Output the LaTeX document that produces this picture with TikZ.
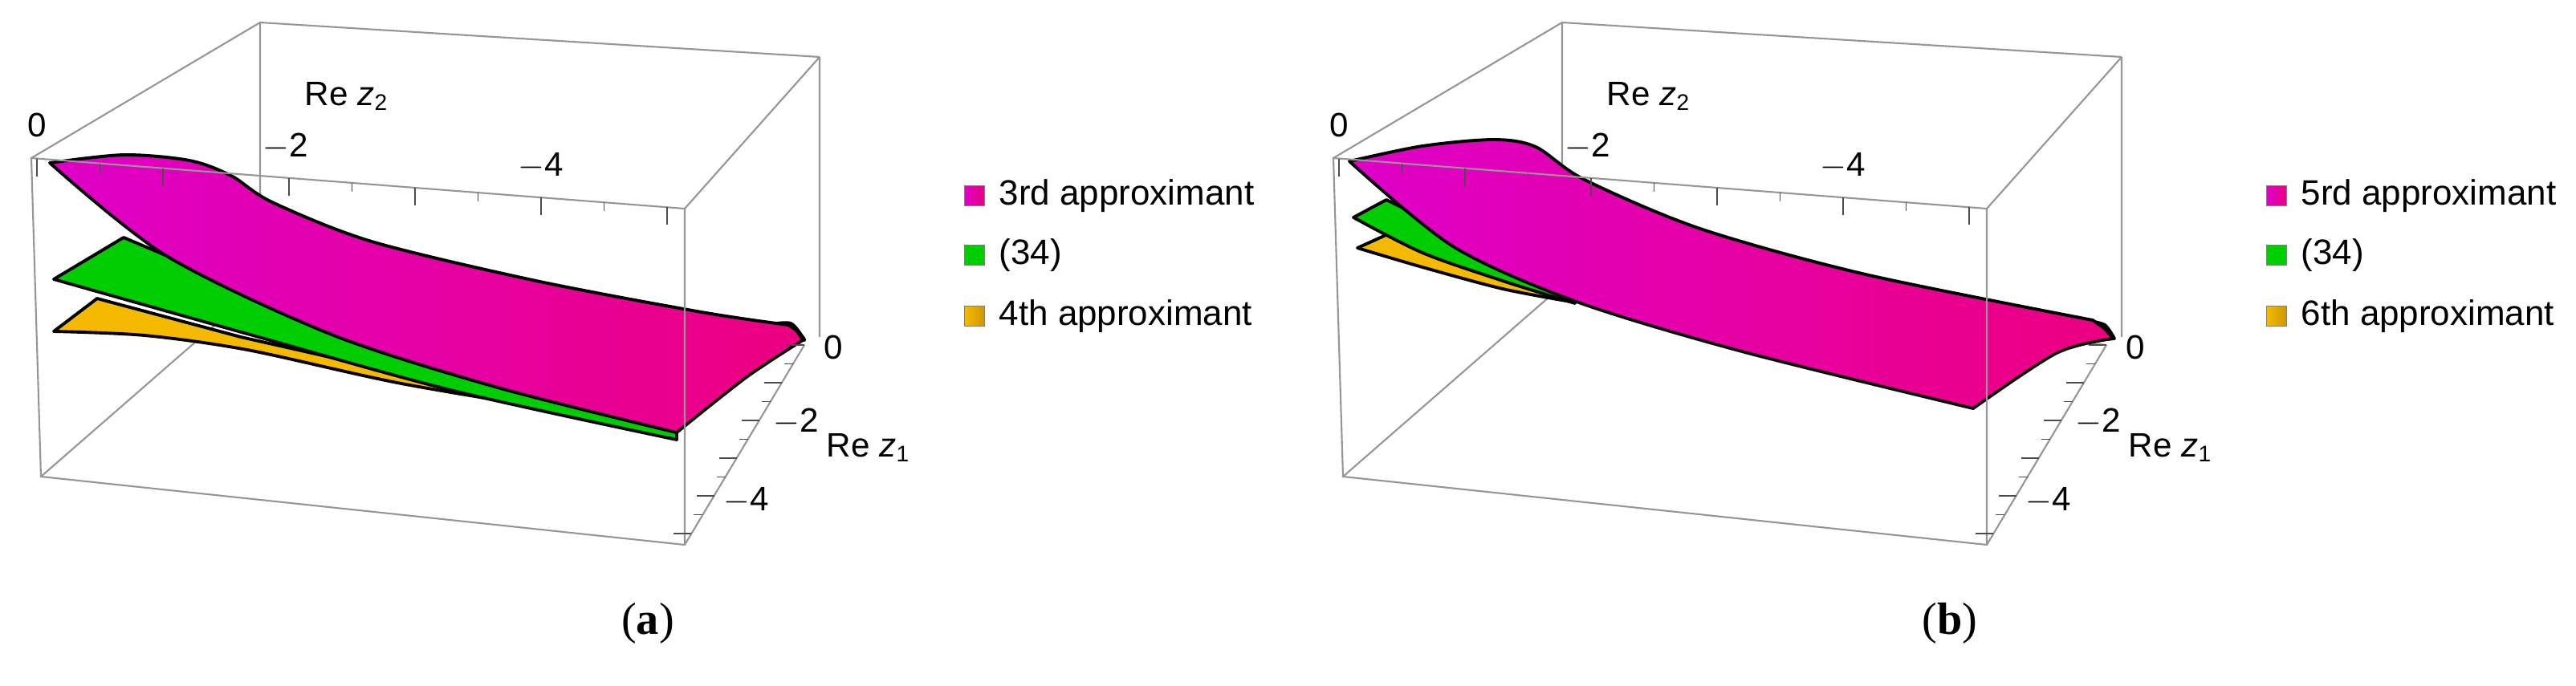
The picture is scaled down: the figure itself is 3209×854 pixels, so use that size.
\documentclass[tikz,border=0pt]{standalone}
\usepackage{fontspec}
\setmainfont{Liberation Sans}
\newfontfamily\capserif{Liberation Serif}
\definecolor{mag}{RGB}{236,0,128}
\definecolor{magL}{RGB}{222,0,200}
\definecolor{grn}{RGB}{0,205,0}
\definecolor{yel}{RGB}{245,185,0}
\definecolor{brn}{RGB}{120,70,10}
\definecolor{boxc}{RGB}{150,150,150}
\tikzset{
 boxl/.style={draw=boxc,line width=0.6pt},
 tick/.style={draw=black!70,line width=0.5pt},
 edge/.style={draw=black,line width=1.1pt,line join=round},
 lab/.style={font=\fontsize{12}{14}\selectfont,inner sep=1pt},
 leg/.style={font=\fontsize{12.5}{14}\selectfont,anchor=west,inner sep=0pt},
 sw/.style={minimum size=7pt,inner sep=0pt,draw=black!50,line width=0.3pt},
 captxt/.style={font=\capserif\fontsize{16}{18}\selectfont}
}
\newcommand{\mypanel}[5]{%
\begin{scope}[shift={(#1,0)}]
 \path[boxl] (324,28)--(1021,71) (324,28)--(39,197) (1021,71)--(853,260) (1021,71)--(1021,420)
   (324,28)--(324,356) (324,356)--(51,594) (324,356)--(1002,430);
 #5
 \path[boxl] (39,197)--(853,260)--(853,679)--(51,594)--cycle (853,679)--(1002,430);
 \foreach \u in {0,0.5,...,5}{
   \pgfmathsetmacro{\xx}{46+157*\u}
   \pgfmathsetmacro{\yy}{197+(\xx-39)*0.0774}
   \pgfmathsetmacro{\tl}{mod(\u,1)==0 ? 22 : 11}
   \draw[tick] (\xx,\yy)--++(0,\tl);
   \pgfmathsetmacro{\yb}{430+47*\u}
   \pgfmathsetmacro{\xb}{1002-(\yb-430)*0.5984}
   \draw[tick] (\xb,\yb)--++(-\tl,0);
 }
 \node[lab] (#2z20) at (46,156) {0};
 \node[lab] (#2z2a) at (356,183) {$-$2};
 \node[lab] (#2z2b) at (674,207) {$-$4};
 \node[lab] (#2z2) at (432,120) {Re \textit{z}\textsubscript{2}};
 \node[lab] (#2z10) at (1038,433) {0};
 \node[lab] (#2z1a) at (992,526) {$-$2};
 \node[lab] (#2z1b) at (930,624) {$-$4};
 \node[lab] (#2z1) at (1082,558) {Re \textit{z}\textsubscript{1}};
 \node[sw,left color=magL,right color=mag] (#2s1) at (1214,244) {};
 \node[sw,fill=grn] (#2s2) at (1214,318) {};
 \node[sw,left color=yel,right color=yel!70!brn] (#2s3) at (1214,394) {};
 \node[leg] (#2t1) at (1244,244) {#3};
 \node[leg] (#2t2) at (1244,318) {(34)};
 \node[leg] (#2t3) at (1244,394) {#4};
 \node[captxt] (#2cap) at (807,777) {(\textbf{#2})};
\end{scope}}
\begin{document}
\begin{tikzpicture}[x=0.01cm,y=-0.01cm]
\useasboundingbox (0,0) rectangle (3209,854);
\fill[white] (0,0) rectangle (3209,854);
\mypanel{0}{a}{3rd approximant}{4th approximant}{%
 \path[edge,fill=yel] (67,413) -- (121,372) -- (300,420) -- (720,515) -- plot[smooth] coordinates {(720,515) (500,478) (308,436) (180,418) (67,413)} -- cycle;
 \path[edge,fill=grn] plot[smooth] coordinates {(67,348) (154,296)} -- plot[smooth] coordinates {(206,318) (411,416) (617,482) (843,539)} -- (843,548) -- plot[smooth] coordinates {(843,548) (565,487) (308,416) (67,348)} -- cycle;
 \path[edge,fill=brn] plot[smooth] coordinates {(960,404) (985,403) (1000,420) (1002,424)} -- (960,424) -- cycle;
 \path[edge,left color=magL,right color=mag] plot[smooth] coordinates {(62,203) (154,193) (236,200) (288,219) (339,252) (463,301) (668,350) (874,389) (982,405)} -- plot[smooth] coordinates {(982,405) (992,412) (1000,424)} -- plot[smooth] coordinates {(1000,424) (930,470) (843,539)} -- plot[smooth] coordinates {(843,539) (617,482) (411,416) (206,318) (62,203)} -- cycle;
}
\mypanel{1622}{b}{5rd approximant}{6th approximant}{%
 \path[edge,fill=yel] (69,309) -- (111,290) -- (250,330) -- (335,376) -- plot[smooth] coordinates {(335,376) (250,360) (150,333) (69,309)} -- cycle;
 \path[edge,fill=grn] (64,271) -- (105,249) -- (250,320) -- (340,378) -- plot[smooth] coordinates {(340,378) (250,350) (150,315) (64,271)} -- cycle;
 \path[edge,fill=brn] plot[smooth] coordinates {(980,400) (1000,405) (1012,422)} -- (975,424) -- cycle;
 \path[edge,left color=magL,right color=mag] plot[smooth] coordinates {(59,201) (150,182) (239,174) (291,183) (352,224) (496,285) (702,342) (985,399)} -- plot[smooth] coordinates {(985,399) (1000,410) (1010,422)} -- plot[smooth] coordinates {(1010,422) (940,440) (836,509)} -- plot[smooth] coordinates {(836,509) (548,438) (342,376) (188,307) (59,201)} -- cycle;
}
\end{tikzpicture}
\end{document}
